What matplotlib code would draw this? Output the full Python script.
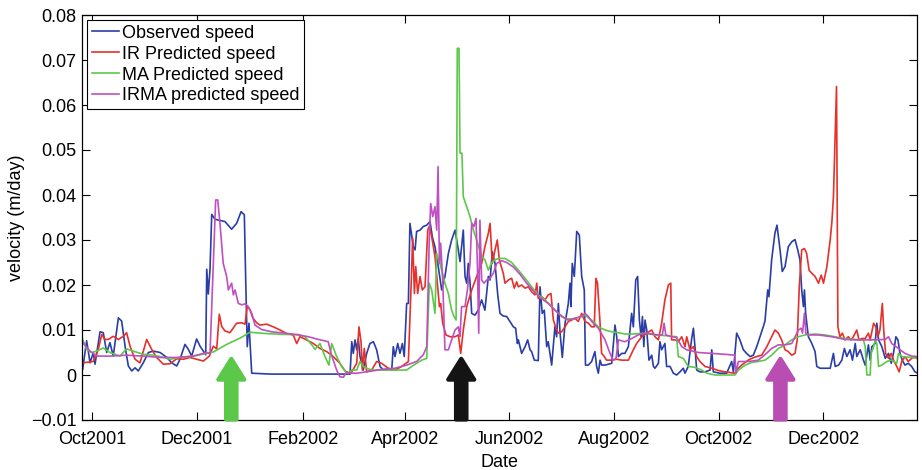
import matplotlib
matplotlib.use("Agg")
import matplotlib.pyplot as plt
import matplotlib.dates as mdates
from matplotlib.ticker import FuncFormatter, MultipleLocator
import numpy as np
import pandas as pd

plt.rcParams['font.family'] = ['Liberation Sans', 'DejaVu Sans']

# day offsets counted from this date
start = pd.Timestamp('2001-09-25')

obs_days = [0.4, 2.7, 4.7, 6.6, 7.6, 10.5, 12.4, 14.4, 16.3, 18.2, 21.2, 23.1, 25.1, 27.0, 29.0, 30.9,
            32.8, 35.7, 38.7, 41.6, 45.5, 49.4, 52.3, 55.2, 57.1, 60.0, 62.0, 63.9, 66.8, 68.8, 70.7, 72.1,
            72.7, 73.6, 74.6, 75.6, 77.5, 83.3, 87.2, 90.1, 92.7, 94.6, 95.4, 96.3, 97.3, 98.9, 110, 130,
            150, 156.2, 157.2, 158.1, 159.1, 160.1, 161.0, 162.0, 163.0, 163.9, 165.9, 167.8, 169.8, 171.7,
            173.7, 175.6, 178.5, 180.5, 181.4, 182.4, 184.0, 185.3, 186.7, 187.8, 189.2, 190.2, 191.1, 193.1,
            194.1, 195.0, 197.0, 198.9, 200.9, 202.8, 204.2, 205.7, 207.6, 209.6, 211.5, 213.5, 215.4, 217.4,
            219.3, 220.3, 221.2, 222.2, 223.2, 224.2, 225.1, 226.1, 227.1, 229.0, 230.9, 232.9, 234.8, 236.8,
            237.8, 239.1, 240.7, 242.2, 243.6, 245.5, 247.5, 249.4, 251.4, 252.7, 253.7, 254.3, 256.2, 258.2,
            259.7, 261.1, 262.0, 263.6, 265.9, 266.9, 268.2, 269.4, 270.8, 271.7, 273.7, 275.6, 276.6, 277.6,
            278.6, 279.9, 281.5, 283.4, 284.4, 284.9, 285.7, 286.9, 288.3, 289.8, 291.2, 292.7, 293.4, 295.1,
            297.0, 298.9, 299.9, 300.9, 301.9, 302.8, 304.8, 308.7, 310.6, 311.6, 312.6, 314.5, 316.4, 318.4,
            320.3, 321.3, 322.7, 323.8, 324.8, 325.8, 326.6, 327.4, 328.1, 329.1, 330.4, 332.0, 333.0, 333.9,
            335.9, 336.8, 337.8, 339.7, 340.7, 342.7, 344.6, 346.5, 348.5, 350.4, 351.4, 353.3, 355.3, 356.3,
            357.2, 358.2, 360.1, 363.1, 366.0, 367.0, 367.9, 371.8, 375.7, 378.6, 379.6, 380.5, 381.5, 383.4,
            385.4, 387.3, 389.3, 391.2, 393.2, 395.1, 397.0, 398.0, 399.6, 400.3, 401.9, 403.8, 405.0, 406.8,
            408.1, 409.7, 411.6, 413.6, 415.5, 417.1, 418.4, 419.4, 420.4, 421.0, 421.7, 423.3, 425.3, 427.2,
            428.2, 430.1, 433.0, 436.0, 437.9, 438.9, 440.9, 442.8, 444.3, 445.7, 447.6, 449.0, 450.6, 451.5,
            453.5, 455.4, 456.4, 458.3, 459.3, 460.3, 462.2, 463.2, 464.2, 466.1, 468.1, 470.0, 471.6, 472.9,
            474.3, 475.5, 476.7, 478.0, 479.6, 481.5, 483.5, 485.4, 486.5]
obs_vals = [.0013, .0076, .0027, .0050, .0024, .0096, .0094, .0050, .0072, .0042, .0127, .0120, .0064, .0020, .0009, .0016,
            .0009, .0027, .0050, .0053, .0050, .0039, .0027, .0020, .0035, .0068, .0057, .0042, .0080, .0064, .0053, .0045,
            .0235, .0180, .0235, .0357, .0346, .0341, .0324, .0337, .0363, .0356, .0211, .0063, .0115, .0004, .0002, .0002,
            .0002, .0002, .0074, .0048, .0078, .0056, .0081, .0041, .0026, .0011, .0048, .0070, .0074, .0056,
            .0019, .0011, .0013, .0011, .0063, .0041, .0070, .0048, .0070, .0041, .0159, .0159, .0337, .0285,
            .0278, .0319, .0322, .0330, .0333, .0341, .0306, .0285, .0241, .0189, .0219, .0270, .0300, .0322,
            .0278, .0252, .0285, .0322, .0219, .0204, .0248, .0207, .0137, .0133, .0144, .0167, .0144, .0219,
            .0211, .0274, .0248, .0181, .0137, .0131, .0130, .0119, .0107, .0104, .0070, .0078, .0048, .0063,
            .0078, .0056, .0052, .0033, .0032, .0196, .0137, .0144, .0063, .0074, .0022, .0107, .0085, .0159,
            .0093, .0039, .0115, .0159, .0204, .0152, .0248, .0219, .0319, .0311, .0219, .0189, .0022, .0022,
            .0030, .0052, .0019, .0004, .0033, .0022, .0022, .0026, .0111, .0085, .0041, .0048, .0048, .0063,
            .0137, .0107, .0211, .0219, .0123, .0085, .0130, .0063, .0122, .0100, .0033, .0044, .0019, .0015,
            .0026, .0074, .0056, .0070, .0019, .0019, .0004, .0000, .0007, .0015, .0004, .0019, .0081, .0104,
            .0063, .0011, .0007, .0007, .0011, .0056, .0007, .0004, .0004, .0030, .0007, .0048, .0093, .0078,
            .0056, .0048, .0041, .0044, .0063, .0085, .0107, .0120, .0189, .0174, .0256, .0315, .0333, .0278,
            .0230, .0241, .0285, .0296, .0301, .0278, .0256, .0190, .0152, .0189, .0137, .0085, .0070, .0052,
            .0019, .0015, .0015, .0015, .0048, .0019, .0022, .0033, .0059, .0041, .0056, .0033, .0070, .0041,
            .0056, .0033, .0022, .0067, .0033, .0063, .0070, .0115, .0078, .0063, .0037, .0048, .0026, .0048,
            .0085, .0078, .0048, .0033, .0022, .0026, .0019, .0007, .0005]

ir_days = [0.4, 6.6, 9.5, 11.5, 13.4, 15.3, 18.2, 21.2, 24.1, 26.0, 28.0, 30.9, 33.8, 37.7, 40.6, 43.5,
           47.4, 51.3, 55.2, 59.0, 62.9, 66.8, 70.7, 74.2, 76.5, 78.5, 80.0, 81.4, 83.3, 86.2, 90.1, 93.1,
           95.0, 96.3, 97.9, 99.5, 101.8, 103.7, 107.6, 111.5, 115.4, 119.3, 123.1, 125.1, 127.0, 130.9,
           134.8, 138.7, 142.6, 146.4, 150.3, 153.3, 155.2, 157.2, 160.1, 161.4, 162.6, 163.4, 164.5, 165.9,
           168.8, 171.7, 174.6, 178.5, 182.4, 186.3, 190.2, 191.7, 192.7, 193.7, 194.5, 195.6, 197.0, 198.3,
           199.9, 201.5, 202.4, 203.8, 205.7, 207.1, 208.3, 209.0, 210.2, 212.1, 214.5, 217.4, 219.3, 220.7,
           222.2, 224.2, 227.1, 230.0, 232.9, 234.8, 236.8, 237.8, 239.1, 240.7, 242.0, 243.2, 245.5, 246.5,
           248.4, 250.4, 251.9, 253.3, 254.3, 256.2, 258.2, 260.1, 262.0, 264.0, 265.0, 265.9, 267.9, 269.8,
           271.7, 273.3, 274.7, 276.6, 277.6, 279.5, 281.5, 283.4, 285.3, 287.3, 289.2, 291.2, 293.1, 295.1,
           297.0, 298.5, 299.5, 300.4, 301.9, 302.8, 303.8, 305.7, 308.7, 311.6, 314.5, 318.4, 321.3, 323.2,
           326.2, 329.1, 332.0, 333.9, 335.9, 337.8, 339.7, 341.7, 343.1, 343.6, 345.6, 347.5, 349.5, 351.4,
           352.4, 354.3, 356.3, 358.2, 360.1, 363.1, 367.0, 370.8, 374.7, 378.6, 380.5, 382.5, 384.4, 386.4,
           388.3, 390.3, 393.2, 396.1, 399.1, 401.9, 403.8, 405.8, 407.7, 409.7, 411.6, 413.6, 415.5, 416.8,
           418.0, 419.4, 421.0, 422.3, 423.7, 425.3, 427.2, 429.2, 430.8, 432.1, 434.1, 436.0, 437.0, 437.9,
           439.7, 440.5, 441.7, 443.1, 444.6, 446.6, 448.1, 449.5, 451.5, 452.8, 454.4, 456.4, 458.3, 459.3,
           461.3, 462.6, 463.8, 465.0, 466.4, 467.2, 468.3, 470.0, 471.6, 472.9, 474.8, 476.2, 477.7, 479.6,
           481.5, 483.5, 485.4, 486.5]
ir_vals = [.0027, .0030, .0057, .0090, .0079, .0079, .0086, .0079, .0086, .0094, .0064, .0035, .0027, .0079, .0057, .0039,
           .0024, .0025, .0036, .0035, .0039, .0035, .0031, .0042, .0064, .0058, .0135, .0108, .0098, .0094, .0115, .0116,
           .0113, .0153, .0145, .0127, .0116, .0111, .0113, .0107, .0100, .0092, .0089, .0070, .0085, .0078,
           .0070, .0059, .0052, .0041, .0026, .0009, .0003, .0007, .0026, .0107, .0074, .0011, .0059, .0007,
           .0011, .0030, .0026, .0015, .0011, .0019, .0030, .0189, .0304, .0181, .0241, .0181, .0219, .0189,
           .0196, .0322, .0331, .0307, .0263, .0204, .0152, .0159, .0115, .0089, .0085, .0085, .0089, .0048,
           .0100, .0152, .0189, .0219, .0248, .0285, .0315, .0337, .0248, .0278, .0300, .0256, .0226, .0204,
           .0211, .0215, .0193, .0207, .0196, .0200, .0193, .0196, .0185, .0178, .0204, .0170, .0174, .0167,
           .0178, .0181, .0122, .0100, .0093, .0096, .0107, .0119, .0122, .0126, .0119, .0137, .0119, .0115,
           .0107, .0107, .0215, .0204, .0115, .0048, .0044, .0033, .0033, .0035, .0033, .0033, .0056, .0070,
           .0085, .0093, .0100, .0085, .0078, .0115, .0167, .0200, .0204, .0078, .0078, .0074, .0085, .0063,
           .0085, .0056, .0063, .0041, .0030, .0019, .0015, .0010, .0007, .0005, .0004, .0015, .0022, .0028,
           .0033, .0037, .0041, .0044, .0063, .0085, .0100, .0093, .0078, .0056, .0052, .0044, .0048, .0078,
           .0196, .0278, .0281, .0270, .0233, .0226, .0219, .0204, .0222, .0204, .0241, .0300, .0340, .0396,
           .0641, .0107, .0085, .0093, .0078, .0085, .0078, .0085, .0100, .0078, .0081, .0081, .0093, .0078,
           .0115, .0107, .0085, .0100, .0159, .0100, .0048, .0037, .0048, .0033, .0019, .0007, .0030, .0041,
           .0030, .0037, .0041, .0037]

ma_days = [0.4, 2.7, 5.6, 8.5, 12.4, 16.3, 22.1, 26.0, 29.9, 35.7, 41.6, 45.5, 51.3, 57.1, 64.9, 72.7,
           76.5, 84.3, 92.1, 97.9, 107.6, 119.3, 126.1, 130.0, 133.9, 135.8, 138.7, 141.6, 143.9, 145.5,
           148.4, 151.3, 154.3, 156.2, 157.2, 160.1, 162.0, 163.9, 165.9, 168.8, 174.6, 180.5, 189.2, 192.1,
           195.0, 197.9, 200.9, 202.4, 203.8, 205.7, 206.7, 208.6, 211.5, 213.5, 215.4, 216.8, 218.0, 218.7,
           219.7, 220.3, 221.4, 222.2, 224.2, 226.1, 228.1, 230.0, 232.9, 234.8, 236.8, 238.8, 240.7, 242.6,
           246.5, 250.4, 254.3, 258.2, 262.0, 265.9, 269.8, 273.7, 277.6, 281.5, 285.3, 289.2, 293.1, 297.0,
           300.9, 304.8, 308.7, 312.6, 316.4, 321.3, 328.1, 333.9, 341.7, 346.5, 347.5, 350.4, 353.3, 357.2,
           361.1, 364.1, 368.9, 374.7, 380.5, 382.5, 386.4, 390.3, 394.1, 398.0, 401.9, 405.8, 409.7, 413.6,
           417.5, 421.3, 427.2, 433.0, 438.9, 444.6, 450.6, 455.4, 456.4, 457.4, 459.3, 459.9, 461.3, 462.2,
           463.2, 464.2, 466.1, 469.0, 471.9, 474.8, 475.8, 477.7, 483.5, 486.5]
ma_vals = [.0079, .0057, .0050, .0053, .0060, .0050, .0042, .0058, .0053, .0046, .0044, .0041, .0035, .0039, .0042, .0048,
           .0051, .0068, .0082, .0095, .0092, .0090, .0090, .0085, .0067, .0057, .0070, .0041, .0022, .0070,
           .0041, .0019, .0004, .0007, .0011, .0011, .0030, .0019, .0015, .0011, .0011, .0011, .0011, .0019,
           .0026, .0033, .0037, .0204, .0189, .0137, .0270, .0248, .0204, .0181, .0144, .0130, .0122, .0726,
           .0726, .0493, .0493, .0396, .0374, .0352, .0322, .0300, .0263, .0256, .0233, .0250, .0256, .0259,
           .0259, .0250, .0233, .0215, .0196, .0178, .0167, .0152, .0137, .0126, .0124, .0128, .0133, .0122,
           .0107, .0100, .0096, .0094, .0091, .0091, .0093, .0089, .0087, .0085, .0041, .0037, .0019, .0017,
           .0011, .0004, .0000, .0000, .0000, .0011, .0022, .0028, .0030, .0033, .0044, .0059, .0067, .0078,
           .0085, .0089, .0091, .0089, .0085, .0081, .0079, .0078, .0063, .0000, .0000, .0048, .0063, .0078,
           .0070, .0019, .0022, .0030, .0033, .0026, .0048, .0041, .0039, .0037]

irma_days = [0.4, 4.7, 8.5, 16.3, 26.0, 35.7, 45.5, 55.2, 64.9, 72.7, 74.6, 76.5, 77.9, 79.1, 80.4, 82.3,
             83.3, 84.3, 85.3, 87.2, 88.2, 89.2, 91.1, 93.1, 95.0, 96.9, 98.9, 100.8, 104.7, 110.5, 118.3, 126.1,
             131.9, 137.8, 143.5, 145.1, 146.4, 148.4, 150.3, 152.3, 154.3, 156.2, 160.1, 165.9, 175.6, 182.4,
             189.2, 195.0, 198.9, 200.9, 202.4, 203.2, 204.4, 205.7, 206.7, 207.5, 208.3, 209.0, 210.2, 211.5,
             213.5, 215.4, 217.4, 219.3, 220.3, 221.2, 223.2, 224.6, 226.1, 227.1, 228.4, 229.6, 230.4, 231.2,
             231.9, 232.9, 234.3, 235.8, 237.8, 239.7, 241.7, 244.6, 247.5, 251.4, 255.2, 259.1, 263.0, 266.9,
             271.7, 275.6, 279.5, 283.4, 287.3, 291.2, 293.1, 295.1, 297.0, 300.9, 304.8, 307.7, 309.6, 311.2,
             312.6, 316.4, 320.3, 324.1, 328.1, 335.9, 338.2, 339.2, 340.2, 343.6, 346.5, 349.5, 352.4, 359.2,
             367.0, 374.7, 380.5, 381.1, 382.5, 388.3, 394.1, 398.0, 401.9, 405.8, 409.7, 413.6, 417.5, 419.1,
             419.9, 421.0, 421.8, 423.3, 429.2, 437.0, 444.6, 452.4, 460.3, 468.1, 470.0, 471.9, 475.8, 479.6,
             483.5, 486.5]
irma_vals = [.0072, .0053, .0042, .0042, .0044, .0042, .0039, .0039, .0042, .0050, .0048, .0241, .0389, .0389, .0337, .0248,
             .0233, .0219, .0189, .0204, .0178, .0189, .0159, .0156, .0158, .0152, .0137, .0111, .0101, .0096, .0093, .0089,
             .0085, .0079, .0074, .0048, .0033, .0011, -.0004, -.0005, .0007, .0004, .0004, .0007, .0013, .0015,
             .0022, .0030, .0045, .0063, .0307, .0381, .0352, .0374, .0322, .0463, .0248, .0293, .0211, .0056,
             .0056, .0078, .0100, .0107, .0085, .0152, .0152, .0189, .0248, .0337, .0330, .0348, .0248, .0093,
             .0344, .0211, .0204, .0211, .0215, .0226, .0248, .0254, .0250, .0240, .0224, .0204, .0187, .0172,
             .0159, .0144, .0130, .0122, .0126, .0130, .0137, .0130, .0119, .0104, .0078, .0048, .0033, .0037,
             .0078, .0074, .0081, .0089, .0093, .0089, .0089, .0115, .0089, .0085, .0084, .0063, .0056, .0050,
             .0048, .0046, .0044, .0004, .0030, .0030, .0033, .0045, .0059, .0067, .0067, .0070, .0100, .0104,
             .0093, .0137, .0093, .0089, .0089, .0085, .0079, .0078, .0078, .0079, .0085, .0070, .0059, .0048,
             .0042, .0041]

# event arrows: date and colour
arrow_dates = ['2001-12-21', '2002-05-04', '2002-11-06']
arrow_colors = ['#5cc84a', '#141414', '#b84db2']


def to_dates(days):
    return start + pd.to_timedelta(np.asarray(days), unit='D')


fig = plt.figure(figsize=(9.22, 4.70), dpi=100)
ax = fig.add_axes([82/922, 50/470, 835/922, 405/470])

ax.plot(to_dates(obs_days), obs_vals, color='#2a3ea6', lw=1.2, label='Observed speed')
ax.plot(to_dates(ir_days), ir_vals, color='#e6302a', lw=1.2, label='IR Predicted speed')
ax.plot(to_dates(ma_days), ma_vals, color='#5cc84a', lw=1.2, label='MA Predicted speed')
ax.plot(to_dates(irma_days), irma_vals, color='#c04fc0', lw=1.2, label='IRMA predicted speed')

for d, c in zip(arrow_dates, arrow_colors):
    t = pd.Timestamp(d)
    ax.annotate('', xy=(t, 0.0036), xytext=(t, -0.0099),
                arrowprops=dict(arrowstyle='simple,head_length=1.0,head_width=1.25,tail_width=0.5',
                                mutation_scale=15, fc=c, ec=c, lw=3, joinstyle='round',
                                shrinkA=0, shrinkB=0))

ax.set_xlim(start, start + pd.Timedelta(days=486.6))
ax.set_ylim(-0.01, 0.08)
ax.yaxis.set_major_locator(MultipleLocator(0.01))
ax.yaxis.set_major_formatter(FuncFormatter(lambda v, p: ('%g' % round(v, 3)).replace('-', '\u2212')))
ax.xaxis.set_major_locator(mdates.MonthLocator(bymonth=[2, 4, 6, 8, 10, 12]))
ax.xaxis.set_major_formatter(mdates.DateFormatter('%b%Y'))

ax.tick_params(direction='in', length=6, width=0.8, top=True, right=True, labelsize=13)
ax.tick_params(axis='x', pad=8)
ax.tick_params(axis='y', pad=4)
for s in ax.spines.values():
    s.set_linewidth(0.9)

ax.set_xlabel('Date', fontsize=13, labelpad=4)
ax.set_ylabel('velocity (m/day)', fontsize=13, labelpad=4)

leg = ax.legend(loc='upper left', fontsize=13, frameon=True, fancybox=False, framealpha=1,
                edgecolor='black', borderaxespad=0.28, borderpad=0.25, labelspacing=0.22,
                handlelength=1.5, handletextpad=0.2)
leg.get_frame().set_linewidth(0.8)

fig.savefig('out.png', dpi=100)
